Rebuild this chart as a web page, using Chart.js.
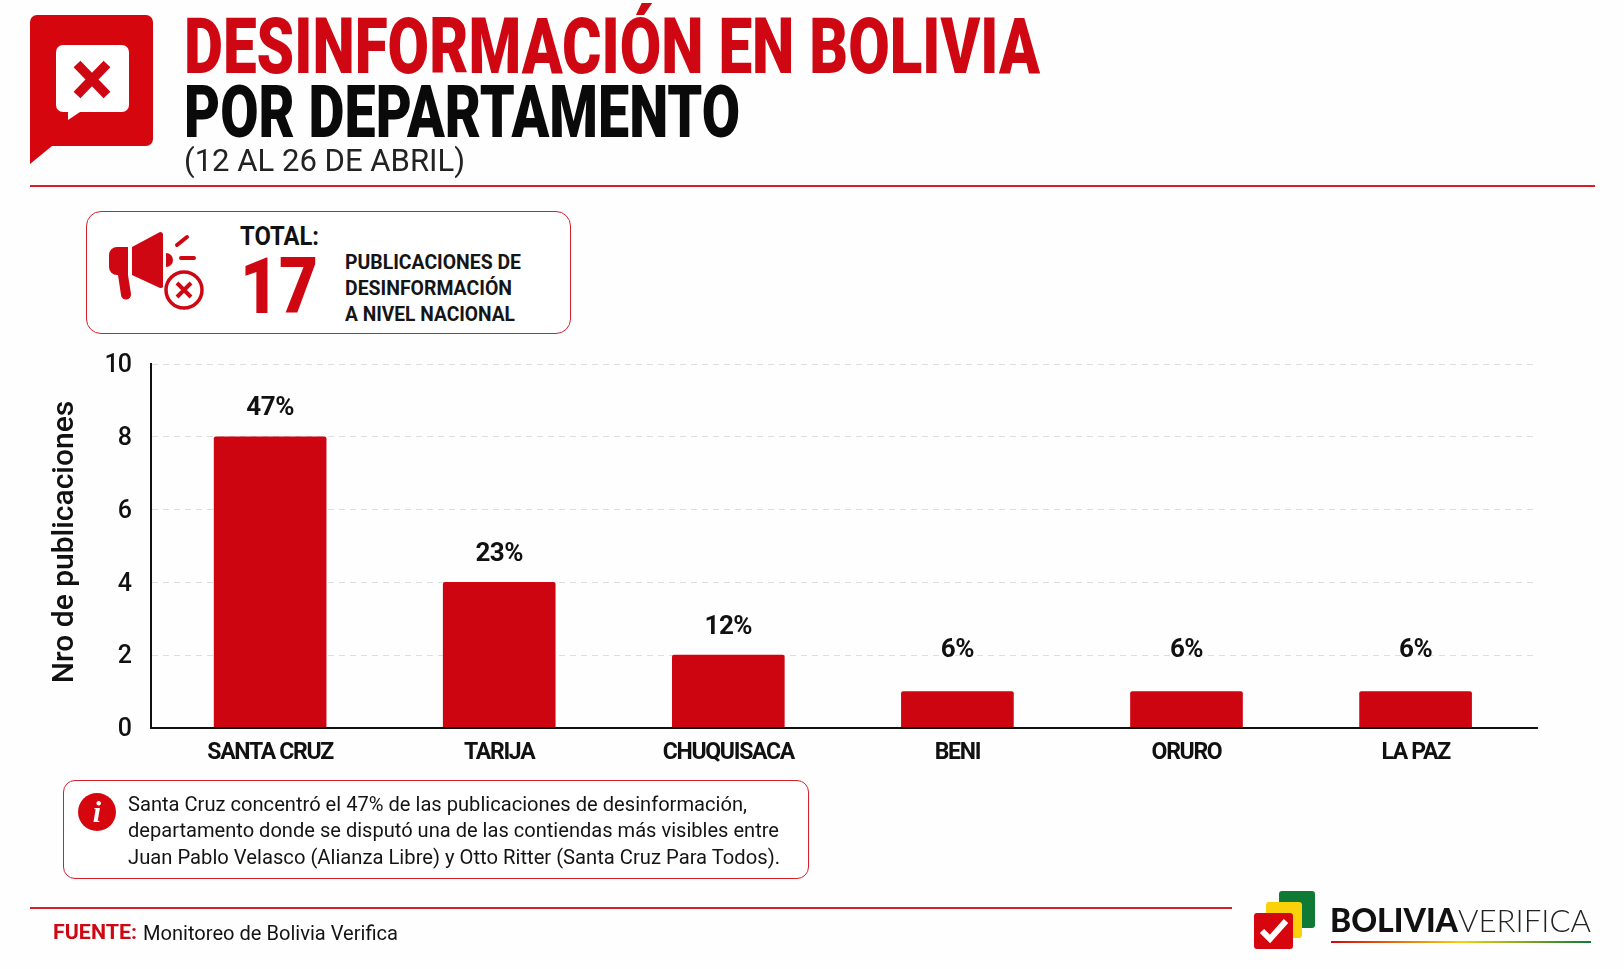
<!DOCTYPE html>
<html lang="es">
<head>
<meta charset="utf-8">
<title>Desinformación en Bolivia por departamento</title>
<script src="https://cdn.jsdelivr.net/npm/chart.js@4"></script>
<style>
  html, body { margin: 0; padding: 0; background: #fefefe; }
  body { width: 1624px; height: 969px; position: relative; overflow: hidden; }
  #chart { position: absolute; left: 0; top: 0; }
  .t { position: absolute; white-space: nowrap; transform-origin: 0 50%; line-height: 1; }
  .n { font-family: Roboto, sans-serif; font-weight: 700; }
  .b { font-family: Roboto, sans-serif; font-weight: 900; }
  .r { font-family: Roboto, sans-serif; font-weight: 400; color: #141414; }
  .red { color: #cf0713; }
  .rule { position: absolute; height: 2px; background: #d4202a; }
  .box { position: absolute; box-sizing: border-box; border: 1.5px solid #d4202a; background: #fff; }
  svg { position: absolute; overflow: visible; }
</style>
</head>
<body>
<canvas id="chart" width="1624" height="969"></canvas>

<!-- cabecera -->
<svg style="left:0;top:0" width="170" height="170">
  <path d="M37 15H146a7 7 0 0 1 7 7V139a7 7 0 0 1-7 7H52L30 164V22a7 7 0 0 1 7-7Z" fill="#d6060f"/>
  <path d="M63 45H122a7 7 0 0 1 7 7V105a7 7 0 0 1-7 7H80L68 120V112H63a7 7 0 0 1-7-7V52a7 7 0 0 1 7-7Z" fill="#fff"/>
  <path d="M77 64L107 95M107 64L77 95" stroke="#cf0713" stroke-width="9.5"/>
</svg>
<div class="t b red" data-w="856" style="left:184px;top:8px;font-size:78px">DESINFORMACIÓN EN BOLIVIA</div>
<div class="t b" data-w="556" style="left:184px;top:77px;font-size:72px;color:#0a0a0a">POR DEPARTAMENTO</div>
<div class="t r" data-w="281" style="left:184px;top:145px;font-size:31px;color:#222">(12 AL 26 DE ABRIL)</div>
<div class="rule" style="left:30px;top:185px;width:1565px"></div>

<!-- total -->
<div class="box" style="left:86px;top:211px;width:485px;height:123px;border-radius:15px"></div>
<svg style="left:0;top:0" width="240" height="340">
  <path d="M128 247H117a8 8 0 0 0-8 8v12a8 8 0 0 0 8 8h1l3 20a5 5 0 0 0 10-1l-3-19Z" fill="#cf0713"/>
  <path d="M132 247L160 232a3 3 0 0 1 3 2V287a3 3 0 0 1-3 1L132 275Z" fill="#cf0713"/>
  <path d="M166 253a7 7 0 0 1 0 14Z" fill="#cf0713"/>
  <path d="M177 245L187 237M181 258H194" stroke="#cf0713" stroke-width="4" stroke-linecap="round"/>
  <circle cx="184" cy="290" r="18" fill="#fff" stroke="#cf0713" stroke-width="3.5"/>
  <path d="M177 283L191 297M191 283L177 297" stroke="#cf0713" stroke-width="4"/>
</svg>
<div class="t n" data-w="79" style="left:240px;top:223px;font-size:26px;color:#111">TOTAL:</div>
<div class="t b red" data-w="78" style="left:240px;top:248px;font-size:78px">17</div>
<div class="t n" data-w="176" style="left:345px;top:252px;font-size:21px;color:#151515">PUBLICACIONES DE</div>
<div class="t n" data-w="167" style="left:345px;top:278px;font-size:21px;color:#151515">DESINFORMACIÓN</div>
<div class="t n" data-w="170" style="left:345px;top:304px;font-size:21px;color:#151515">A NIVEL NACIONAL</div>

<!-- nota -->
<div class="box" style="left:63px;top:780px;width:746px;height:99px;border-radius:12px"></div>
<svg style="left:0;top:780px" width="130" height="70">
  <circle cx="97" cy="32" r="19" fill="#d6060f"/>
  <text x="97" y="42" text-anchor="middle" fill="#fff" font-family="Liberation Serif" font-weight="700" font-style="italic" font-size="30">i</text>
</svg>
<div class="t r" data-w="619" style="left:128px;top:794px;font-size:20.5px">Santa Cruz concentró el 47% de las publicaciones de desinformación,</div>
<div class="t r" data-w="651" style="left:128px;top:820px;font-size:20.5px">departamento donde se disputó una de las contiendas más visibles entre</div>
<div class="t r" data-w="652" style="left:128px;top:847px;font-size:20.5px">Juan Pablo Velasco (Alianza Libre) y Otto Ritter (Santa Cruz Para Todos).</div>

<!-- pie -->
<div class="rule" style="left:30px;top:907px;width:1202px"></div>
<div class="t n red" data-w="84" style="left:53px;top:922px;font-size:21px">FUENTE:</div>
<div class="t r" data-w="255" style="left:143px;top:923px;font-size:20px">Monitoreo de Bolivia Verifica</div>
<svg style="left:0;top:0" width="1624" height="969">
  <rect x="1279" y="891" width="36" height="37" rx="3" fill="#0f7a35"/>
  <rect x="1266" y="902" width="36" height="36" rx="3" fill="#fbd20a"/>
  <rect x="1254" y="913" width="39" height="36" rx="3" fill="#d6060f"/>
  <path d="M1262 931L1270 939L1286 921" fill="none" stroke="#fff" stroke-width="6"/>
  <defs><linearGradient id="bandera"><stop offset="0" stop-color="#d6060f"/><stop offset=".5" stop-color="#f5d20a"/><stop offset="1" stop-color="#0f7a35"/></linearGradient></defs>
  <rect x="1331" y="941" width="260" height="2" fill="url(#bandera)"/>
</svg>
<div class="t" data-w="128" style="left:1330px;top:904px;font-size:32px;font-family:Lato,sans-serif;font-weight:900;color:#111">BOLIVIA</div>
<div class="t" data-w="133" style="left:1458px;top:904px;font-size:32px;font-family:Lato,sans-serif;font-weight:300;color:#222">VERIFICA</div>

<script>
const categories = ['SANTA CRUZ', 'TARIJA', 'CHUQUISACA', 'BENI', 'ORURO', 'LA PAZ'];
const publicaciones = [8, 4, 2, 1, 1, 1];
const porcentajes = ['47%', '23%', '12%', '6%', '6%', '6%'];
const yMax = 10;
const yStep = 2;

const fuente = 'Roboto, sans-serif';
const rojo = '#cc0510';

// textos ajustados al ancho medido en la imagen
document.querySelectorAll('[data-w]').forEach(el => {
    const w = parseFloat(el.dataset.w);
    el.style.transform = `scaleX(${w / el.getBoundingClientRect().width})`;
});

// envuelve un metodo de dibujo de la escala: letra mas apretada y ajuste vertical
function wrapDraw(scale, method, spacing, dy) {
    const original = scale[method];
    scale[method] = function(...args) {
        const { ctx } = this;
        ctx.save();
        ctx.letterSpacing = spacing;
        ctx.translate(0, dy);
        original.apply(this, args);
        ctx.restore();
    };
}

const axisText = {
    id: 'axisText',
    afterInit(chart) {
        chart.$axisWrapped = false;
    },
    beforeDraw(chart) {
        if (chart.$axisWrapped) return;
        chart.$axisWrapped = true;
        wrapDraw(chart.scales.x, 'drawLabels', '-1.3px', 0);
        wrapDraw(chart.scales.y, 'drawLabels', '-1px', 2);
        wrapDraw(chart.scales.y, 'drawTitle', '0px', -4);
    }
};

// porcentaje encima de cada barra
const percentLabels = {
    id: 'percentLabels',
    afterDatasetsDraw(chart) {
        const { ctx } = chart;
        ctx.save();
        ctx.font = `700 26px ${fuente}`;
        ctx.letterSpacing = '-0.5px';
        ctx.fillStyle = '#111';
        ctx.textAlign = 'center';
        ctx.textBaseline = 'middle';
        chart.getDatasetMeta(0).data.forEach((bar, i) => {
            const gap = publicaciones[i] < 2 ? 41 : 28;
            ctx.fillText(porcentajes[i], bar.x, bar.y - gap);
        });
        ctx.restore();
    }
};

new Chart(document.getElementById('chart'), {
    type: 'bar',
    data: {
        datasets: [{
            data: publicaciones.map((v, i) => ({ x: i, y: v })),
            backgroundColor: rojo,
            barThickness: 112,
            borderRadius: { topLeft: 2, topRight: 2 },
            borderSkipped: 'bottom'
        }]
    },
    plugins: [axisText, percentLabels],
    options: {
        responsive: false,
        animation: false,
        devicePixelRatio: 1,
        layout: { padding: { left: 30, top: 364, right: 87, bottom: 161 } },
        plugins: { legend: { display: false }, tooltip: { enabled: false } },
        scales: {
            x: {
                type: 'linear',
                offset: false,
                min: -0.52,
                max: 5.53,
                grid: { display: false },
                border: { color: '#111', width: 2, z: 1 },
                afterFit: scale => { scale.height = 80; },
                ticks: {
                    stepSize: 1,
                    includeBounds: false,
                    maxRotation: 0,
                    autoSkip: false,
                    padding: 3,
                    color: '#111',
                    font: { family: fuente, size: 23, weight: '700' },
                    callback: value => categories[value]
                }
            },
            y: {
                min: 0,
                max: yMax,
                afterFit: scale => { scale.width = 121; },
                border: { color: '#111', width: 2, dash: [6, 5] },
                grid: { color: '#dedede', lineWidth: 1, drawTicks: false },
                ticks: {
                    stepSize: yStep,
                    padding: 20,
                    color: '#111',
                    font: { family: fuente, size: 25, weight: '500' }
                },
                title: {
                    display: true,
                    text: 'Nro de publicaciones',
                    color: '#111',
                    padding: { top: 17, bottom: 0 },
                    font: { family: fuente, size: 30, weight: '500' }
                }
            }
        }
    }
});
</script>
</body>
</html>
